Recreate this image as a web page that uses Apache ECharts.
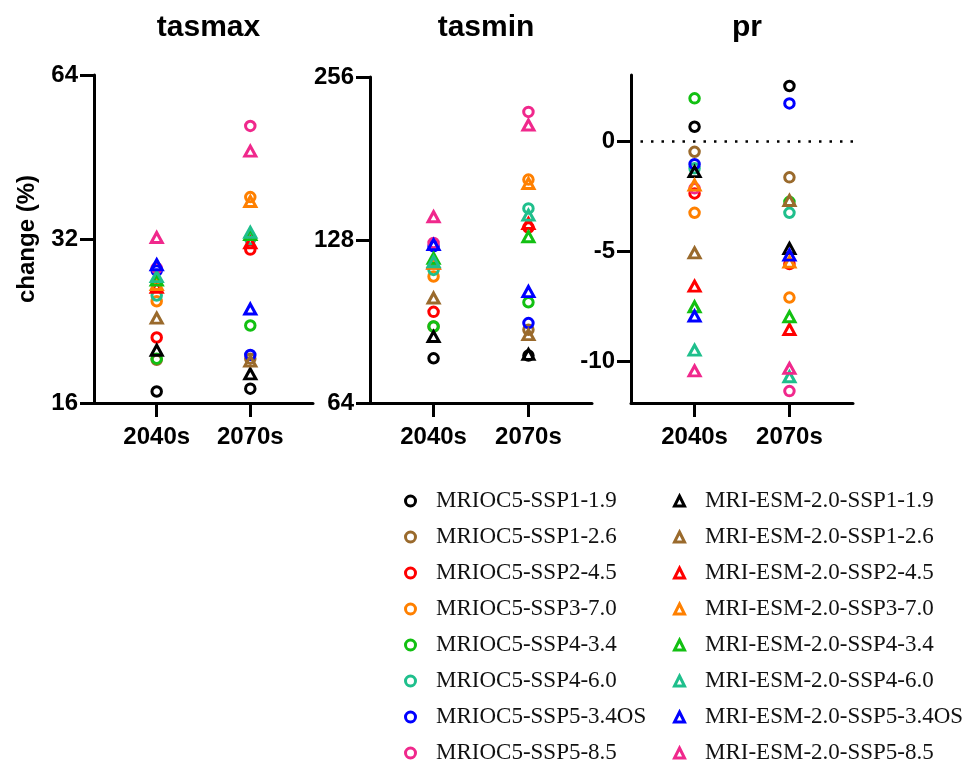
<!DOCTYPE html>
<html>
<head>
<meta charset="utf-8">
<script src="https://cdn.jsdelivr.net/npm/echarts@6/dist/echarts.min.js"></script>
<style>
html,body{margin:0;padding:0;background:#fff;}
#chart{width:973px;height:770px;}
</style>
</head>
<body>
<div id="chart"></div>
<script>
// ---- data ----
const periods = ['2040s', '2070s'];
const scenarios = ['SSP1-1.9', 'SSP1-2.6', 'SSP2-4.5', 'SSP3-7.0', 'SSP4-3.4', 'SSP4-6.0', 'SSP5-3.4OS', 'SSP5-8.5'];
const models = ['MRIOC5', 'MRI-ESM-2.0'];
const panels = ['tasmax', 'tasmin', 'pr'];
const colors = ['#000000', '#9a6a2c', '#ff0000', '#ff8000', '#12c012', '#1fbf8c', '#0000ff', '#f0288c'];

// tasmax change (%)
const tasmax_MRIOC5_2040s = [16.8, 19.2, 21.1, 24.6, 19.3, 25.2, 28.0, 28.3];
const tasmax_MRIOC5_2070s = [17.0, 19.3, 30.6, 38.2, 22.2, 32.0, 19.6, 51.6];
const tasmax_MRIESM_2040s = [20.0, 22.9, 26.1, 26.4, 26.9, 27.3, 28.7, 32.2];
const tasmax_MRIESM_2070s = [18.1, 19.1, 31.5, 37.5, 32.6, 32.9, 23.8, 46.4];
// tasmin change (%)
const tasmin_MRIOC5_2040s = [77.4, 88.6, 94.3, 109.6, 88.6, 112.7, 124.6, 126.4];
const tasmin_MRIOC5_2070s = [78.3, 87.4, 135.0, 165.5, 98.2, 146.4, 89.9, 220.7];
const tasmin_MRIESM_2040s = [84.9, 100.0, 116.0, 115.9, 118.4, 116.7, 125.5, 141.3];
const tasmin_MRIESM_2070s = [78.7, 85.6, 137.3, 162.8, 129.8, 142.3, 102.8, 208.7];
// pr change (%)
const pr_MRIOC5_2040s = [0.65, -0.49, -2.38, -3.26, 1.94, -1.24, -1.05, -2.15];
const pr_MRIOC5_2070s = [2.5, -1.65, -5.59, -7.11, -2.76, -3.26, 1.71, -11.36];
const pr_MRIESM_2040s = [-1.39, -5.08, -6.59, -2.0, -7.53, -9.5, -7.95, -10.44];
const pr_MRIESM_2070s = [-4.88, -2.7, -8.56, -5.5, -7.98, -10.71, -5.18, -10.33];

const panelData = [
  [[tasmax_MRIOC5_2040s, tasmax_MRIOC5_2070s], [tasmax_MRIESM_2040s, tasmax_MRIESM_2070s]],
  [[tasmin_MRIOC5_2040s, tasmin_MRIOC5_2070s], [tasmin_MRIESM_2040s, tasmin_MRIESM_2070s]],
  [[pr_MRIOC5_2040s, pr_MRIOC5_2070s], [pr_MRIESM_2040s, pr_MRIESM_2070s]]
];

// ---- chart ----
const FONT = 'Liberation Sans, Arial, sans-serif';
const chart = echarts.init(document.getElementById('chart'), null, {renderer: 'canvas'});

const grids = [
  {left: 94, top: 75, width: 219, height: 328},
  {left: 370, top: 77, width: 222, height: 326},
  {left: 631, top: 75, width: 222, height: 328}
];
const centers = grids.map(g => g.left + g.width / 2);

const axisLineStyle = {color: '#000', width: 3};
const labelStyle = {fontSize: 24, fontWeight: 'bold', color: '#000', fontFamily: FONT};

const xAxes = grids.map((g, i) => ({
  gridIndex: i, type: 'value', min: 0.33, max: 2.67,
  axisLine: {show: true, onZero: false, lineStyle: axisLineStyle},
  axisTick: {show: true, length: 14, lineStyle: axisLineStyle, customValues: [1, 2]},
  axisLabel: Object.assign({customValues: [1, 2], margin: 22,
    formatter: v => periods[Math.round(v) - 1]}, labelStyle),
  splitLine: {show: false}
}));

const yCommon = {
  axisLine: {show: true, onZero: false, lineStyle: axisLineStyle},
  axisTick: {show: true, length: 14, lineStyle: axisLineStyle},
  splitLine: {show: false}
};
const yAxes = [
  Object.assign({gridIndex: 0, type: 'log', logBase: 2, min: 16, max: 64,
    axisLabel: Object.assign({margin: 16}, labelStyle),
    name: 'change (%)', nameLocation: 'middle', nameGap: 55,
    nameTextStyle: {fontSize: 24, fontWeight: 'bold', color: '#000', fontFamily: FONT}}, yCommon),
  Object.assign({gridIndex: 1, type: 'log', logBase: 2, min: 64, max: 256,
    axisLabel: Object.assign({margin: 16}, labelStyle)}, yCommon),
  Object.assign({gridIndex: 2, type: 'value', min: -11.9, max: 3,
    axisLabel: Object.assign({margin: 16, customValues: [-10, -5, 0]}, labelStyle)},
    yCommon, {axisTick: {show: true, length: 14, lineStyle: axisLineStyle, customValues: [-10, -5, 0]}})
];

const series = [];
panels.forEach((p, pi) => {
  models.forEach((m, mi) => {
    scenarios.forEach((s, si) => {
      const vals = panelData[pi][mi];
      const isCircle = mi === 0;
      series.push({
        type: 'scatter',
        name: m + '-' + s,
        xAxisIndex: pi, yAxisIndex: pi,
        symbol: isCircle ? 'circle' : 'triangle',
        symbolSize: isCircle ? 9.5 : [11, 10],
        itemStyle: {color: 'rgba(255,255,255,0)', borderColor: colors[si], borderWidth: 3, opacity: 1},
        data: periods.map((per, k) => [k + 1, vals[k][si]]),
        z: 3
      });
    });
  });
});
// dotted zero line in pr panel
series.push({
  type: 'line', xAxisIndex: 2, yAxisIndex: 2, data: [], silent: true,
  markLine: {
    silent: true, symbol: ['none', 'none'], label: {show: false},
    lineStyle: {color: '#000', width: 2.5, type: [2.5, 8]},
    data: [[{coord: [0.43, 0]}, {coord: [2.67, 0]}]]
  }
});

function legendFor(mi, left) {
  return {
    orient: 'vertical', left: left, top: 482, height: 360,
    itemWidth: 10, itemHeight: 10, itemGap: 8,
    selectedMode: false,
    textStyle: {fontFamily: 'Liberation Serif, Times New Roman, serif', fontSize: 23, color: '#111',
      lineHeight: 28, padding: [0, 0, 0, 15.5]},
    data: scenarios.map((s, si) => ({
      name: models[mi] + '-' + s,
      icon: mi === 0 ? 'circle' : 'triangle',
      itemStyle: {color: 'rgba(255,255,255,0)', borderColor: colors[si], borderWidth: 3}
    }))
  };
}

const option = {
  animation: false,
  backgroundColor: '#fff',
  title: panels.map((p, i) => ({
    text: p, left: centers[i], top: 8, textAlign: 'center',
    textStyle: {fontSize: 30, fontWeight: 'bold', color: '#000', fontFamily: FONT}
  })),
  grid: grids,
  xAxis: xAxes,
  yAxis: yAxes,
  legend: [legendFor(0, 399), legendFor(1, 668)],
  series: series
};
chart.setOption(option);
</script>
</body>
</html>
